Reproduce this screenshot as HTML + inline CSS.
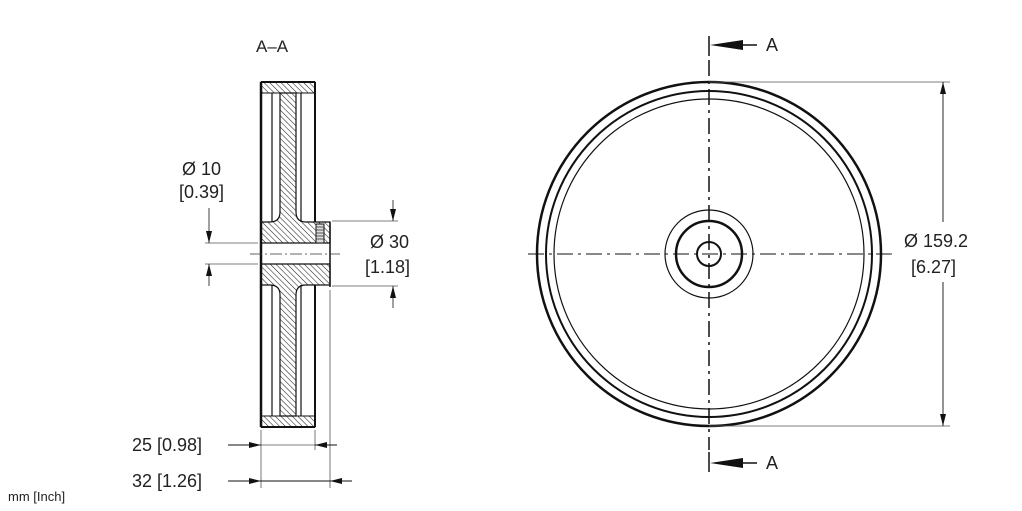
<!DOCTYPE html>
<html><head><meta charset="utf-8"><style>
html,body{margin:0;padding:0;background:#fff;}
svg{display:block;}
text{font-family:"Liberation Sans",sans-serif;fill:#222;}
</style></head><body>
<svg width="1022" height="511" viewBox="0 0 1022 511" xmlns="http://www.w3.org/2000/svg">
<defs>
<pattern id="h" patternUnits="userSpaceOnUse" width="4" height="4" patternTransform="rotate(-45)">
<rect width="4" height="4" fill="#fff"/><line x1="0" y1="0" x2="0" y2="4" stroke="#222" stroke-width="1.1"/>
</pattern>
<marker id="a" viewBox="0 0 12 6" refX="12" refY="3" markerWidth="12" markerHeight="6" markerUnits="userSpaceOnUse" orient="auto"><path d="M0,0 L12,3 L0,6 z" fill="#111"/></marker>
</defs>

<!-- SECTION VIEW -->
<text x="256" y="52" font-size="17">A–A</text>
<rect x="261" y="82" width="54" height="11" fill="url(#h)" stroke="#111" stroke-width="1"/>
<rect x="261" y="416" width="54" height="11" fill="url(#h)" stroke="#111" stroke-width="1"/>
<path d="M280,93 L296,93 L296,212 Q296,222 306,222 L330,222 L330,243 L261,243 L261,222 L270,222 Q280,222 280,212 Z" fill="url(#h)" stroke="#111" stroke-width="1.2"/>
<path d="M261,264 L330,264 L330,285 L306,285 Q296,285 296,295 L296,416 L280,416 L280,295 Q280,285 270,285 L261,285 Z" fill="url(#h)" stroke="#111" stroke-width="1.2"/>
<rect x="316" y="224" width="8" height="19" fill="#ddd" stroke="#111" stroke-width="1"/>
<g stroke="#333" stroke-width="0.8"><line x1="316" y1="227" x2="324" y2="227"/><line x1="316" y1="230" x2="324" y2="230"/><line x1="316" y1="233" x2="324" y2="233"/><line x1="316" y1="236" x2="324" y2="236"/><line x1="316" y1="239" x2="324" y2="239"/></g>
<g stroke="#111" fill="none">
<line x1="261" y1="82" x2="261" y2="427" stroke-width="2.5"/>
<line x1="315" y1="82" x2="315" y2="222" stroke-width="2"/>
<line x1="315" y1="285" x2="315" y2="427" stroke-width="2"/>
<line x1="261" y1="82" x2="315" y2="82" stroke-width="2"/>
<line x1="261" y1="427" x2="315" y2="427" stroke-width="2"/>
<line x1="272" y1="93" x2="272" y2="222" stroke-width="1.2"/>
<line x1="272" y1="285" x2="272" y2="416" stroke-width="1.2"/>
<line x1="301" y1="93" x2="301" y2="222" stroke-width="1.2"/>
<line x1="301" y1="285" x2="301" y2="416" stroke-width="1.2"/>
<path d="M330,222 L330,287" stroke-width="1.5"/>
</g>
<line x1="250" y1="254" x2="340" y2="254" stroke="#333" stroke-width="0.8" stroke-dasharray="12,3,2,3"/>
<g stroke="#555" stroke-width="0.8" fill="none">
<line x1="205" y1="243" x2="258" y2="243"/>
<line x1="205" y1="264" x2="258" y2="264"/>
<line x1="209" y1="208" x2="209" y2="243" marker-end="url(#a)" stroke="#111"/>
<line x1="209" y1="286" x2="209" y2="264" marker-end="url(#a)" stroke="#111"/>
<line x1="332" y1="221" x2="398" y2="221"/>
<line x1="332" y1="286" x2="398" y2="286"/>
<line x1="393" y1="200" x2="393" y2="221" marker-end="url(#a)" stroke="#111"/>
<line x1="393" y1="308" x2="393" y2="286" marker-end="url(#a)" stroke="#111"/>
<line x1="261" y1="430" x2="261" y2="488"/>
<line x1="315" y1="430" x2="315" y2="450"/>
<line x1="330" y1="290" x2="330" y2="488"/>
</g>
<text x="182" y="175" font-size="18">Ø 10</text>
<text x="179" y="198" font-size="18">[0.39]</text>
<text x="370" y="248" font-size="18">Ø 30</text>
<text x="365" y="273" font-size="18">[1.18]</text>
<g stroke="#111" stroke-width="0.9">
<line x1="228" y1="445" x2="261" y2="445" marker-end="url(#a)"/>
<line x1="261" y1="445" x2="315" y2="445" stroke="#555" stroke-width="0.8"/>
<line x1="337" y1="445" x2="315" y2="445" marker-end="url(#a)"/>
<line x1="228" y1="481" x2="261" y2="481" marker-end="url(#a)"/>
<line x1="261" y1="481" x2="330" y2="481"/>
<line x1="352" y1="481" x2="330" y2="481" marker-end="url(#a)"/>
</g>
<text x="132" y="451" font-size="18">25 [0.98]</text>
<text x="132" y="487" font-size="18">32 [1.26]</text>
<text x="8" y="501" font-size="13">mm [Inch]</text>

<!-- FRONT VIEW -->
<g fill="none" stroke="#111">
<circle cx="709" cy="254" r="172" stroke-width="2.5"/>
<circle cx="709" cy="254" r="163" stroke-width="2"/>
<circle cx="709" cy="254" r="155" stroke-width="1.2"/>
<circle cx="709" cy="254" r="44" stroke-width="1.2"/>
<circle cx="709" cy="254" r="33" stroke-width="2.5"/>
<circle cx="709" cy="254" r="12" stroke-width="2"/>
</g>
<g stroke="#111" stroke-width="1.5">
<line x1="709" y1="60" x2="709" y2="450" stroke-dasharray="16,5,3,5"/>
<line x1="528" y1="254" x2="892" y2="254" stroke-dasharray="16,5,3,5" stroke-width="0.9"/>
<line x1="709" y1="36" x2="709" y2="56"/>
<line x1="709" y1="452" x2="709" y2="472"/>
<line x1="757" y1="45" x2="720" y2="45"/>
<line x1="757" y1="463" x2="720" y2="463"/>
</g>
<path d="M743,40 L710,45 L743,50 Z" fill="#111"/>
<path d="M743,458 L710,463 L743,468 Z" fill="#111"/>
<text x="766" y="51" font-size="18">A</text>
<text x="766" y="469" font-size="18">A</text>
<g stroke="#555" stroke-width="0.8">
<line x1="709" y1="82" x2="950" y2="82"/>
<line x1="709" y1="426" x2="950" y2="426"/>
</g>
<g stroke="#111" stroke-width="0.9">
<line x1="943" y1="222" x2="943" y2="82" marker-end="url(#a)"/>
<line x1="943" y1="282" x2="943" y2="426" marker-end="url(#a)"/>
</g>
<text x="904" y="247" font-size="18">Ø 159.2</text>
<text x="911" y="273" font-size="18">[6.27]</text>
</svg>
</body></html>
